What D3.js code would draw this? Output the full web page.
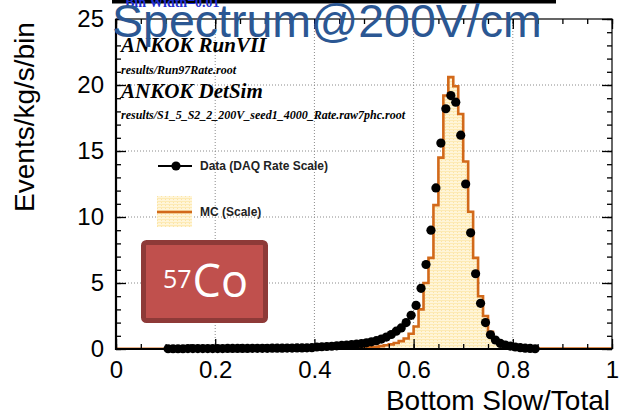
<!DOCTYPE html>
<html>
<head>
<meta charset="utf-8">
<script src="https://cdn.jsdelivr.net/npm/d3@7"></script>
<style>
  html, body { margin: 0; padding: 0; background: #fff; }
  svg { display: block; }
</style>
</head>
<body>
<svg id="chart" width="625" height="418"></svg>
<script>
// ---------- data ----------
const binWidth = 0.01;
// Data (DAQ Rate Scale): bin centres from 0.105 to 0.845
const dataFirstCenter = 0.105;
const dataValues = [
  0.02, 0.02, 0.02, 0.02, 0.03, 0.03, 0.03, 0.03, 0.03, 0.03,
  0.03, 0.03, 0.04, 0.04, 0.04, 0.04, 0.04, 0.05, 0.05, 0.05,
  0.05, 0.06, 0.06, 0.06, 0.07, 0.07, 0.08, 0.08, 0.09, 0.10,
  0.15, 0.17, 0.19, 0.21, 0.24, 0.27, 0.30, 0.33, 0.37, 0.41,
  0.47, 0.54, 0.63, 0.75, 0.90, 1.10, 1.35, 1.60, 2.00, 2.55,
  3.30, 4.60, 6.40, 9.00, 12.2, 15.6, 18.2, 19.2, 18.7, 16.2,
  12.5, 8.80, 5.70, 3.46, 2.00, 1.08, 0.68, 0.42, 0.30, 0.22,
  0.15, 0.10, 0.06, 0.04, 0.02
];
// MC (Scale): 100 bins from 0.00 to 1.00
const mcValues = [
  0.02, 0.02, 0.02, 0.02, 0.02, 0.02, 0.02, 0.02, 0.02, 0.02,
  0.02, 0.02, 0.02, 0.02, 0.02, 0.02, 0.02, 0.02, 0.02, 0.02,
  0.02, 0.02, 0.02, 0.02, 0.02, 0.02, 0.02, 0.02, 0.02, 0.02,
  0.03, 0.03, 0.03, 0.03, 0.03, 0.03, 0.03, 0.03, 0.03, 0.03,
  0.04, 0.04, 0.04, 0.04, 0.04, 0.04, 0.05, 0.06, 0.07, 0.08,
  0.10, 0.13, 0.17, 0.22, 0.28, 0.35, 0.45, 0.60, 0.80, 1.15,
  1.70, 3.00, 5.00, 6.90, 10.9, 14.5, 19.2, 20.6, 19.9, 17.8,
  14.2, 10.4, 6.90, 4.00, 2.50, 1.30, 0.70, 0.40, 0.15, 0.10,
  0.06, 0.05, 0.05, 0.04, 0.04, 0.04, 0.04, 0.04, 0.04, 0.04,
  0.04, 0.04, 0.04, 0.04, 0.04, 0.04, 0.04, 0.04, 0.04, 0.04
];
const xMajorTicks = [0, 0.2, 0.4, 0.6, 0.8, 1];
const xTickLabels = ["0", "0.2", "0.4", "0.6", "0.8", "1"];
const yMajorTicks = [0, 5, 10, 15, 20, 25];
const yTickLabels = ["0", "5", "10", "15", "20", "25"];
const xGrid = [0.2, 0.4, 0.6, 0.8];
const yGrid = [5, 10, 15, 20];
const titleText = "Spectrum@200V/cm";
const binWidthText = "Bin Width=0.01";
const xAxisTitle = "Bottom Slow/Total";
const yAxisTitle = "Events/kg/s/bin";
const infoLines = [
  {text: "ANKOK RunVII", big: true},
  {text: "results/Run97Rate.root", big: false},
  {text: "ANKOK DetSim", big: true},
  {text: "results/S1_5_S2_2_200V_seed1_4000_Rate.raw7phc.root", big: false}
];
const legendLabels = ["Data (DAQ Rate Scale)", "MC (Scale)"];
const sourceMass = "57";
const sourceElement = "Co";

// ---------- drawing ----------
const svg = d3.select("#chart");
const X0 = 116, X1 = 612, Y0 = 349, Y1 = 19;
const x = d3.scaleLinear().domain([0, 1]).range([X0, X1]);
const y = d3.scaleLinear().domain([0, 25]).range([Y0, Y1]);

const defs = svg.append("defs");
const pat = defs.append("pattern").attr("id", "mcfill")
  .attr("patternUnits", "userSpaceOnUse").attr("width", 4).attr("height", 3);
pat.append("rect").attr("width", 4).attr("height", 3).attr("fill", "#fff5d8");
pat.append("rect").attr("x", 0).attr("y", 0).attr("width", 4).attr("height", 1).attr("fill", "#fdeab4");
pat.append("rect").attr("x", 1).attr("y", 1).attr("width", 1).attr("height", 1).attr("fill", "#fbe4a6");

// grid
const grid = svg.append("g").attr("stroke", "#8a8a8a").attr("stroke-width", 1)
  .attr("stroke-dasharray", "1,2");
grid.selectAll("line.gx").data(xGrid).join("line")
  .attr("x1", d => x(d)).attr("x2", d => x(d)).attr("y1", Y1).attr("y2", Y0);
grid.selectAll("line.gy").data(yGrid).join("line")
  .attr("y1", d => y(d)).attr("y2", d => y(d)).attr("x1", X0).attr("x2", X1);

// MC histogram
const mcPts = mcValues.map((v, i) => ({e: i * binWidth, v}));
mcPts.push({e: mcValues.length * binWidth, v: mcValues[mcValues.length - 1]});
const area = d3.area().curve(d3.curveStepAfter)
  .x(d => x(d.e)).y0(y(0)).y1(d => y(d.v));
svg.append("path").datum(mcPts).attr("d", area).attr("fill", "url(#mcfill)");
const line = d3.line().curve(d3.curveStepAfter).x(d => x(d.e)).y(d => y(d.v));
svg.append("path").datum(mcPts).attr("d", line)
  .attr("fill", "none").attr("stroke", "#d2691a").attr("stroke-width", 2.6)
  .attr("stroke-linejoin", "miter");

// data points
svg.append("g").selectAll("circle").data(dataValues).join("circle")
  .attr("cx", (d, i) => x(dataFirstCenter + i * binWidth))
  .attr("cy", d => y(d)).attr("r", 4.6).attr("fill", "#000");

// axes
const xMinor = d3.range(0, 1.0001, 0.05);
const yMinor = d3.range(0, 25.001, 1);
function styleAxis(g) { g.select(".domain").remove(); g.selectAll(".tick line").attr("stroke", "#000").attr("stroke-width", 1.3); }
svg.append("g").attr("transform", `translate(0,${Y0})`)
  .call(d3.axisBottom(x).tickValues(xMinor).tickSize(-5).tickFormat(""))
  .call(styleAxis);
svg.append("g").attr("transform", `translate(0,${Y0})`)
  .call(d3.axisBottom(x).tickValues(xMajorTicks).tickSize(-10).tickPadding(12)
    .tickFormat((d, i) => xTickLabels[i]))
  .call(styleAxis)
  .call(g => g.selectAll("text").attr("font-family", "Liberation Sans, Arial, sans-serif")
    .attr("font-size", 24).attr("fill", "#000"));
svg.append("g").attr("transform", `translate(0,${Y1})`)
  .call(d3.axisTop(x).tickValues(xMinor).tickSize(-5).tickFormat("")).call(styleAxis);
svg.append("g").attr("transform", `translate(0,${Y1})`)
  .call(d3.axisTop(x).tickValues(xMajorTicks).tickSize(-10).tickFormat("")).call(styleAxis);

svg.append("g").attr("transform", `translate(${X0},0)`)
  .call(d3.axisLeft(y).tickValues(yMinor).tickSize(-5).tickFormat("")).call(styleAxis);
svg.append("g").attr("transform", `translate(${X0},0)`)
  .call(d3.axisLeft(y).tickValues(yMajorTicks).tickSize(-10).tickPadding(12)
    .tickFormat((d, i) => yTickLabels[i]))
  .call(styleAxis)
  .call(g => g.selectAll("text").attr("font-family", "Liberation Sans, Arial, sans-serif")
    .attr("font-size", 24).attr("fill", "#000"));
svg.append("g").attr("transform", `translate(${X1},0)`)
  .call(d3.axisRight(y).tickValues(yMinor).tickSize(-5).tickFormat("")).call(styleAxis);
svg.append("g").attr("transform", `translate(${X1},0)`)
  .call(d3.axisRight(y).tickValues(yMajorTicks).tickSize(-10).tickFormat("")).call(styleAxis);

// frame
svg.append("rect").attr("x", X0).attr("y", Y1).attr("width", X1 - X0).attr("height", Y0 - Y1)
  .attr("fill", "none").attr("stroke", "#000").attr("stroke-width", 1.2);
svg.append("line").attr("x1", X0).attr("x2", X0).attr("y1", Y1).attr("y2", Y0 + 1)
  .attr("stroke", "#000").attr("stroke-width", 2.2);
svg.append("line").attr("x1", X0).attr("x2", X1).attr("y1", Y0).attr("y2", Y0)
  .attr("stroke", "#000").attr("stroke-width", 2.2);

// axis titles
svg.append("text").attr("x", 610).attr("y", 410).attr("text-anchor", "end")
  .attr("font-family", "Liberation Sans, Arial, sans-serif").attr("font-size", 28)
  .attr("fill", "#000").text(xAxisTitle);
svg.append("text").attr("transform", "translate(34,117) rotate(-90)").attr("text-anchor", "middle")
  .attr("font-family", "Liberation Sans, Arial, sans-serif").attr("font-size", 28)
  .attr("fill", "#000").text(yAxisTitle);

// info text
const infoY = [52, 74, 98, 119];
svg.append("g").selectAll("text").data(infoLines).join("text")
  .attr("x", 121).attr("y", (d, i) => infoY[i])
  .attr("font-family", "Liberation Serif, Times New Roman, serif")
  .attr("font-style", "italic").attr("font-weight", "bold")
  .attr("font-size", d => d.big ? 21 : 12).attr("fill", "#000")
  .text(d => d.text);

// legend
const lg = svg.append("g");
lg.append("line").attr("x1", 158).attr("x2", 192).attr("y1", 166).attr("y2", 166)
  .attr("stroke", "#000").attr("stroke-width", 2);
lg.append("circle").attr("cx", 176).attr("cy", 166).attr("r", 4.6).attr("fill", "#000");
lg.append("rect").attr("x", 157).attr("y", 196).attr("width", 35).attr("height", 31)
  .attr("fill", "url(#mcfill)");
lg.append("line").attr("x1", 157).attr("x2", 192).attr("y1", 212).attr("y2", 212)
  .attr("stroke", "#d2691a").attr("stroke-width", 2.6);
lg.selectAll("text").data(legendLabels).join("text")
  .attr("x", 200).attr("y", (d, i) => i === 0 ? 170 : 216)
  .attr("font-family", "Liberation Sans, Arial, sans-serif").attr("font-weight", "bold")
  .attr("font-size", 12).attr("fill", "#222").text(d => d);

// 57Co box
svg.append("rect").attr("x", 143.5).attr("y", 242.5).attr("width", 122).attr("height", 78)
  .attr("rx", 3).attr("fill", "#c0504d").attr("stroke", "#8e3a38").attr("stroke-width", 5);
const co = svg.append("text").attr("x", 163).attr("y", 297)
  .attr("font-family", "Open Sans, Noto Sans, sans-serif").attr("fill", "#fff");
co.append("tspan").attr("font-size", 25).attr("dy", -9).text(sourceMass);
co.append("tspan").attr("font-size", 45).attr("dy", 9).attr("dx", 1).text(sourceElement);

// top black bar and bin width text
svg.append("rect").attr("x", 112).attr("y", 0).attr("width", 444).attr("height", 3.5).attr("fill", "#000");
svg.append("text").attr("x", 125).attr("y", 7)
  .attr("font-family", "Liberation Serif, Times New Roman, serif").attr("font-weight", "bold")
  .attr("font-size", 14).attr("fill", "#1f2fd0").text(binWidthText);

// title
svg.append("text").attr("x", 112).attr("y", 37)
  .attr("font-family", "Liberation Sans, Arial, sans-serif").attr("font-size", 46.5)
  .attr("fill", "#2b5793").text(titleText);
</script>
</body>
</html>
